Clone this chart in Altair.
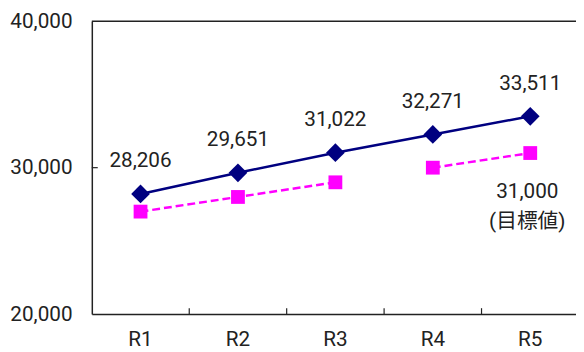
import altair as alt
import pandas as pd

categories = ["R1", "R2", "R3", "R4", "R5"]
actual = [28206, 29651, 31022, 32271, 33511]
target = [27000, 28000, 29000, 30000, 31000]
target_segment = ["a", "a", "a", "b", "b"]
y_ticks = [20000, 30000, 40000]

df_a = pd.DataFrame({"cat": categories, "value": actual})
df_t = pd.DataFrame({"cat": categories, "value": target, "seg": target_segment})
df_t["label"] = df_t["value"].map(lambda v: f"{v:,}\n(目標値)")
df_last = df_t.iloc[[-1]]

FONT = "Roboto, Noto Sans CJK JP"
W, H = 494, 297

xs = alt.Scale(domain=categories, paddingInner=0, paddingOuter=0)
ys = alt.Scale(domain=[20000, 40000], nice=False, zero=False)

x_axis = alt.Axis(title=None, ticks=False, tickSize=0, labelAngle=0,
                  labelFontSize=21, labelFont=FONT, labelColor="#222",
                  labelPadding=15, domainColor="#222", domainWidth=1.5)
y_axis = alt.Axis(title=None, values=y_ticks, format=",.0f", ticks=False, tickSize=0,
                  grid=False, labelFontSize=21, labelFont=FONT, labelColor="#222",
                  labelPadding=20, domainColor="#222", domainWidth=1.5)


def X(**kw):
    return alt.X("cat:N", scale=xs, sort=categories, axis=x_axis, **kw)


def Y():
    return alt.Y("value:Q", scale=ys, axis=y_axis)


base_a = alt.Chart(df_a)
base_t = alt.Chart(df_t)

top_rule = alt.Chart(pd.DataFrame({"value": [y_ticks[-1]]})).mark_rule(color="#222", strokeWidth=1.5).encode(
    y=Y())
ytick = alt.Chart(pd.DataFrame({"value": [y_ticks[1]]})).mark_rule(color="#222", strokeWidth=1.2).encode(
    y=Y(), x=alt.value(0), x2=alt.value(6))
xticks = alt.Chart(pd.DataFrame({"cat": categories[1:]})).mark_rule(color="#222", strokeWidth=1.2).encode(
    x=X(bandPosition=0), y=alt.value(H - 6), y2=alt.value(H))

t_line = base_t.mark_line(color="#FF00FF", strokeWidth=2.5, strokeDash=[8, 4]).encode(
    x=X(), y=Y(), detail="seg:N")
t_pts = base_t.mark_point(shape="square", filled=True, size=196, color="#FF00FF", opacity=1).encode(
    x=X(), y=Y())
a_line = base_a.mark_line(color="#000080", strokeWidth=2.5).encode(x=X(), y=Y())
a_pts = base_a.mark_point(shape="diamond", filled=True, size=361, color="#000080", opacity=1).encode(
    x=X(), y=Y())
a_txt = base_a.mark_text(dy=-33, fontSize=21, font=FONT, color="#222").encode(
    x=X(), y=Y(), text=alt.Text("value:Q", format=",.0f"))
t_txt = alt.Chart(df_last).mark_text(dy=29, dx=-3, baseline="top", lineBreak="\n", lineHeight=30,
                                     fontSize=21, font=FONT, color="#222").encode(
    x=X(), y=Y(), text="label:N")

chart = alt.layer(t_line, t_pts, a_line, a_pts, a_txt, t_txt, top_rule, ytick, xticks).properties(
    width=W, height=H,
    autosize=alt.AutoSizeParams(type="none"),
    padding={"left": 85, "top": 11, "right": -3, "bottom": 36},
).configure_view(stroke=None)

chart.save("out.html", embed_options={"renderer": "svg", "actions": False})
